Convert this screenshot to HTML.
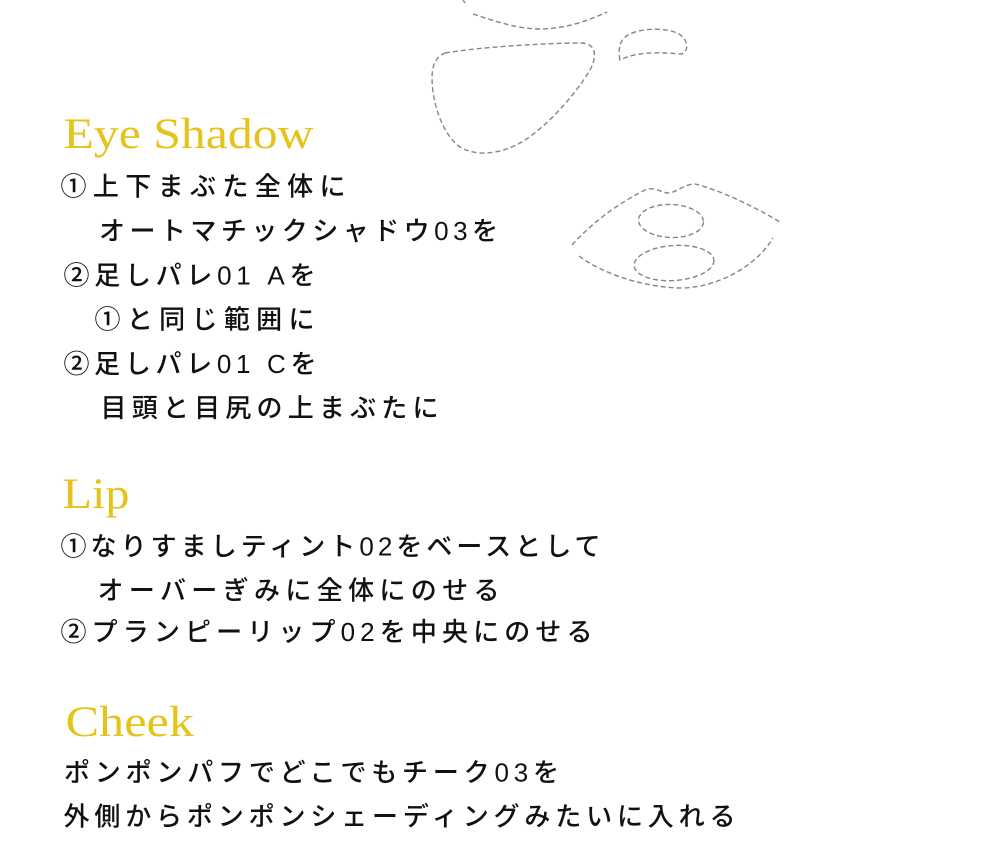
<!DOCTYPE html>
<html>
<head>
<meta charset="utf-8">
<style>
  html,body{margin:0;padding:0;background:#fff;}
  body{width:1000px;height:861px;overflow:hidden;}
  svg{display:block;}
  .h{font-family:"Liberation Serif",serif;font-size:43px;fill:#e6c31a;}
  .t{font-family:"Liberation Sans","Noto Sans CJK JP",sans-serif;font-size:26px;fill:#111;font-weight:500;}
  .d{fill:none;stroke:#858585;stroke-width:1.4;stroke-dasharray:5 3;stroke-linecap:butt;}
</style>
</head>
<body>
<svg width="1000" height="861" viewBox="0 0 1000 861" xmlns="http://www.w3.org/2000/svg">
  <!-- sketches -->
  <path class="d" d="M463,0 L465,3"/>
  <path class="d" d="M473,14 C500,23 520,29 540,29 C565,29 590,20 607,12"/>
  <path class="d" d="M445,53 C480,47 545,43 582,43 C597,44 597,57 590,70 C575,95 548,125 525,140 C505,153 478,158 460,147 C445,136 436,113 433,92 C431,74 431,59 445,53 Z"/>
  <path class="d" d="M620,60 C618,50 619,40 628,35 C640,28 666,27 679,34 C689,40 689,52 681,54 C666,53 640,50 620,60 Z"/>
  <path class="d" d="M572,245 C590,225 615,205 645,190 C655,186 662,193 668,193 C676,193 684,184 695,184 C720,190 755,207 780,222"/>
  <path class="d" d="M579,256 C600,272 640,287 680,288 C715,288 755,268 773,238"/>
  <ellipse class="d" cx="671" cy="221" rx="32.5" ry="16.5" transform="rotate(2 671 221)"/>
  <ellipse class="d" cx="674" cy="263" rx="40" ry="17.5" transform="rotate(-4 674 263)"/>

  <!-- Eye Shadow -->
  <text class="h" x="63.5" y="148" textLength="250" lengthAdjust="spacingAndGlyphs">Eye Shadow</text>
  <text class="t" x="60.5" y="195.5" textLength="285" lengthAdjust="spacing">①上下まぶた全体に</text>
  <text class="t" x="99" y="240" textLength="399" lengthAdjust="spacing">オートマチックシャドウ03を</text>
  <text class="t" x="63.5" y="284.5" textLength="252" lengthAdjust="spacing">②足しパレ01 Aを</text>
  <text class="t" x="94.5" y="328.5" textLength="220" lengthAdjust="spacing">①と同じ範囲に</text>
  <text class="t" x="63.5" y="373" textLength="253" lengthAdjust="spacing">②足しパレ01 Cを</text>
  <text class="t" x="100.5" y="417" textLength="338" lengthAdjust="spacing">目頭と目尻の上まぶたに</text>

  <!-- Lip -->
  <text class="h" x="62.5" y="508" textLength="67" lengthAdjust="spacingAndGlyphs">Lip</text>
  <text class="t" x="60.5" y="555.5" textLength="540" lengthAdjust="spacing">①なりすましティント02をベースとして</text>
  <text class="t" x="97.5" y="599.5" textLength="402" lengthAdjust="spacing">オーバーぎみに全体にのせる</text>
  <text class="t" x="60.5" y="641" textLength="532" lengthAdjust="spacing">②プランピーリップ02を中央にのせる</text>

  <!-- Cheek -->
  <text class="h" x="65.5" y="736" textLength="128.5" lengthAdjust="spacingAndGlyphs">Cheek</text>
  <text class="t" x="64" y="781.5" textLength="495" lengthAdjust="spacing">ポンポンパフでどこでもチーク03を</text>
  <text class="t" x="63.5" y="825.5" textLength="672" lengthAdjust="spacing">外側からポンポンシェーディングみたいに入れる</text>
</svg>
</body>
</html>
